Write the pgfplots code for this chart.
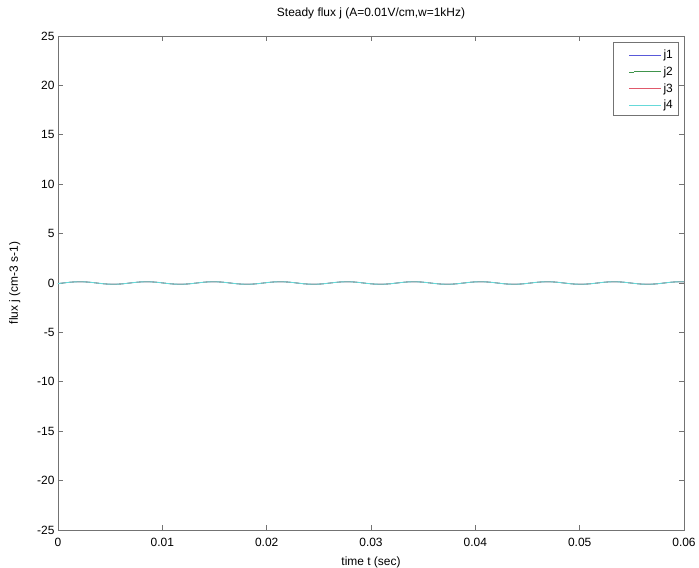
\documentclass[border=0pt]{standalone}
\usepackage{fontspec}
\setmainfont{Liberation Sans}
\usepackage{pgfplots}
\usepackage{pgfplotstable}
\pgfplotsset{compat=1.18}

% steady-state flux over time (all four channels coincide)
\pgfplotstableread{
t       j
0.0000 -0.061
0.0008  0.038
0.0016  0.115
0.0024  0.124
0.0032  0.061
0.0040 -0.038
0.0048 -0.115
0.0056 -0.124
0.0064 -0.061
0.0072  0.038
0.0080  0.115
0.0088  0.124
0.0096  0.061
0.0104 -0.038
0.0112 -0.115
0.0120 -0.124
0.0128 -0.061
0.0136  0.038
0.0144  0.115
0.0152  0.124
0.0160  0.061
0.0168 -0.038
0.0176 -0.115
0.0184 -0.124
0.0192 -0.061
0.0200  0.038
0.0208  0.115
0.0216  0.124
0.0224  0.061
0.0232 -0.038
0.0240 -0.115
0.0248 -0.124
0.0256 -0.061
0.0264  0.038
0.0272  0.115
0.0280  0.124
0.0288  0.061
0.0296 -0.038
0.0304 -0.115
0.0312 -0.124
0.0320 -0.061
0.0328  0.038
0.0336  0.115
0.0344  0.124
0.0352  0.061
0.0360 -0.038
0.0368 -0.115
0.0376 -0.124
0.0384 -0.061
0.0392  0.038
0.0400  0.115
0.0408  0.124
0.0416  0.061
0.0424 -0.038
0.0432 -0.115
0.0440 -0.124
0.0448 -0.061
0.0456  0.038
0.0464  0.115
0.0472  0.124
0.0480  0.061
0.0488 -0.038
0.0496 -0.115
0.0504 -0.124
0.0512 -0.061
0.0520  0.038
0.0528  0.115
0.0536  0.124
0.0544  0.061
0.0552 -0.038
0.0560 -0.115
0.0568 -0.124
0.0576 -0.061
0.0584  0.038
0.0592  0.115
0.0600  0.124
}\fluxdata

\definecolor{jone}{rgb}{0.35,0.35,0.85}
\definecolor{jtwo}{rgb}{0.25,0.58,0.30}
\definecolor{jthree}{rgb}{0.88,0.35,0.42}
\definecolor{jfour}{rgb}{0.40,0.85,0.85}
\definecolor{axgray}{gray}{0.45}

\begin{document}
\begin{tikzpicture}
\begin{axis}[
  name=ax,
  scale only axis,
  width=626bp, height=494bp,
  xmin=0, xmax=0.06, ymin=-25, ymax=25,
  xtick={0,0.01,0.02,0.03,0.04,0.05,0.06},
  xticklabels={0,0.01,0.02,0.03,0.04,0.05,0.06},
  ytick={-25,-20,-15,-10,-5,0,5,10,15,20,25},
  yticklabels={-25,-20,-15,-10,-5,0,5,10,15,20,25},
  scaled x ticks=false,
  tick align=inside,
  major tick length=5bp,
  axis line style={axgray, line width=0.8bp},
  every tick/.append style={axgray, line width=0.6bp},
  tick label style={font=\fontsize{12}{14}\selectfont, black},
  xticklabel style={yshift=-5bp},
  label style={font=\fontsize{12}{14}\selectfont},
  title style={font=\fontsize{12}{14}\selectfont, yshift=8bp},
  title={Steady flux j (A=0.01V/cm,w=1kHz)},
  xlabel={time t (sec)},
  ylabel={flux j (cm-3 s-1)},
  xlabel style={yshift=-3bp},
  ylabel style={yshift=10bp},
  legend style={at={(0.9904,0.9798)}, anchor=north east,
    draw=none, fill=none, font=\fontsize{12}{14}\selectfont, row sep=2.5bp},
  legend cell align=left,
  legend image code/.code={%
    \path (-5bp,0bp) -- (0bp,0bp);
    \draw[#1, line width=1bp] (0bp,0bp) -- (27bp,0bp);},
]
% legend frame
\draw[axgray, line width=0.7bp] (rel axis cs:0.8866,0.8401) rectangle (rel axis cs:0.9904,0.9879);
\addplot[color=jone, line width=0.6bp, smooth] table[x=t, y=j] {\fluxdata};
\addlegendentry{j1\hspace{19bp}}
\addplot[color=jtwo, line width=0.6bp, smooth] table[x=t, y=j] {\fluxdata};
\addlegendentry{j2\hspace{19bp}}
\addplot[color=jthree, line width=0.6bp, smooth] table[x=t, y=j] {\fluxdata};
\addlegendentry{j3\hspace{19bp}}
\addplot[color=jfour, line width=0.9bp, smooth] table[x=t, y=j] {\fluxdata};
\addlegendentry{j4\hspace{19bp}}
\end{axis}
\pgfresetboundingbox
\path[use as bounding box] ([xshift=-58bp,yshift=-38bp]ax.south west) rectangle ++(699bp,568bp);
\end{tikzpicture}
\end{document}
